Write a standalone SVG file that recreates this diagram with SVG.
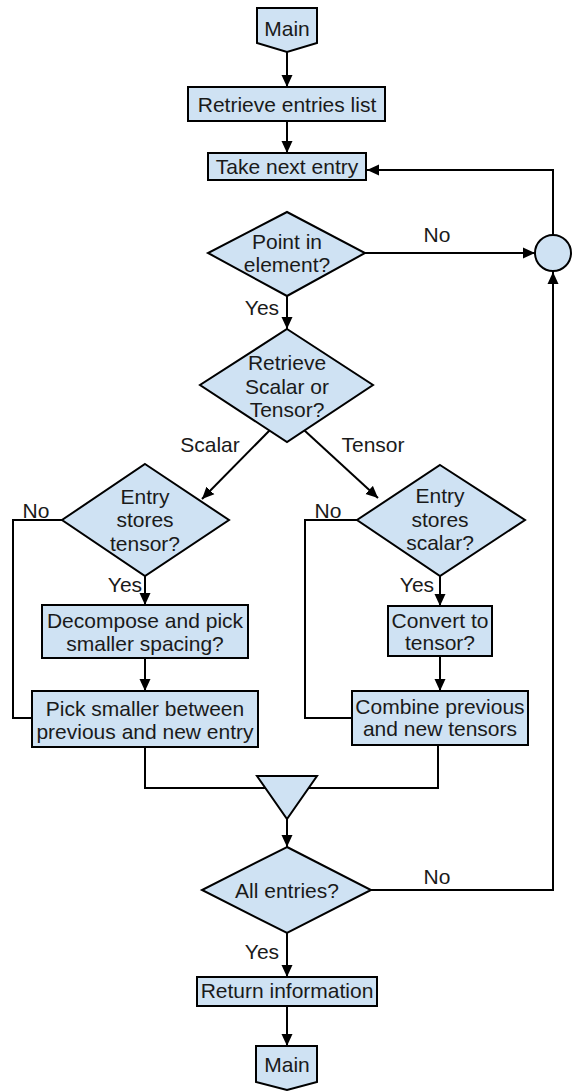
<svg xmlns="http://www.w3.org/2000/svg" width="573" height="1091" viewBox="0 0 573 1091">
  <style>
    .shape { fill: #cfe2f3; stroke: #000; stroke-width: 2; }
    .wire { fill: none; stroke: #000; stroke-width: 2; }
    .arrow { marker-end: url(#head); }
    text { font-family: "Liberation Sans", Arial, sans-serif; font-size: 21px; fill: #1a1a1a; text-anchor: middle; }
  </style>
  <defs>
    <marker id="head" viewBox="0 0 12 12" markerWidth="12" markerHeight="12" refX="12" refY="6" orient="auto" markerUnits="userSpaceOnUse">
      <path d="M0,0.5 L12,6 L0,11.5 z" fill="#000"/>
    </marker>
  </defs>
  <rect width="573" height="1091" fill="#fff"/>

  <!-- connectors -->
  <g id="connectors">
    <path class="wire arrow" d="M287,52 L287,87"/>
    <path class="wire arrow" d="M287,121 L287,153"/>
    <path class="wire arrow" d="M553,235 L553,170 L367,170"/>
    <path class="wire arrow" d="M287,296 L287,329"/>
    <path class="wire arrow" d="M365,253 L535,253"/>
    <path class="wire arrow" d="M269.5,430.5 L202,499"/>
    <path class="wire arrow" d="M304.5,430.5 L378,498"/>
    <path class="wire" d="M62,520 L13,520 L13,718 L32,718"/>
    <path class="wire arrow" d="M145,576 L145,605"/>
    <path class="wire arrow" d="M145,658 L145,691"/>
    <path class="wire" d="M357,520 L305,520 L305,718 L352,718"/>
    <path class="wire arrow" d="M440,576 L440,606"/>
    <path class="wire arrow" d="M440,656 L440,691"/>
    <path class="wire" d="M145,747 L145,788 L287,788"/>
    <path class="wire" d="M438,745 L438,788 L287,788"/>
    <path class="wire arrow" d="M287,819 L287,847"/>
    <path class="wire arrow" d="M371,890 L553,890 L553,272"/>
    <path class="wire arrow" d="M287,933 L287,977"/>
    <path class="wire arrow" d="M287,1006 L287,1046"/>
    <text x="437" y="242">No</text>
    <text x="262" y="315">Yes</text>
    <text x="210" y="452">Scalar</text>
    <text x="373" y="452">Tensor</text>
    <text x="36" y="518">No</text>
    <text x="125" y="592">Yes</text>
    <text x="328" y="518">No</text>
    <text x="417" y="592">Yes</text>
    <text x="437" y="884">No</text>
    <text x="262" y="959">Yes</text>
  </g>

  <!-- nodes -->
  <g id="main-start">
    <path class="shape" d="M257,8 L317,8 L317,43 L287,52 L257,43 z"/>
    <text x="287" y="36">Main</text>
  </g>
  <g id="retrieve-list">
    <rect class="shape" x="188" y="87" width="197" height="34"/>
    <text x="287" y="111.5">Retrieve entries list</text>
  </g>
  <g id="take-next">
    <rect class="shape" x="208" y="153" width="158" height="27"/>
    <text x="287" y="174">Take next entry</text>
  </g>
  <g id="point-in-element">
    <path class="shape" d="M287,212 L365,253 L287,296 L208,253 z"/>
    <text x="287" y="249">Point in</text>
    <text x="287" y="272">element?</text>
  </g>
  <g id="loop-joint">
    <circle class="shape" cx="553" cy="253" r="18"/>
  </g>
  <g id="scalar-or-tensor">
    <path class="shape" d="M287,329 L373,385 L287,442 L200,385 z"/>
    <text x="287" y="370">Retrieve</text>
    <text x="287" y="394">Scalar or</text>
    <text x="287" y="417">Tensor?</text>
  </g>
  <g id="stores-tensor">
    <path class="shape" d="M145,464 L229,520 L145,576 L62,520 z"/>
    <text x="145" y="503.5">Entry</text>
    <text x="145" y="527">stores</text>
    <text x="145" y="550.5">tensor?</text>
  </g>
  <g id="stores-scalar">
    <path class="shape" d="M440,465 L525,520 L440,576 L357,520 z"/>
    <text x="440" y="503">Entry</text>
    <text x="440" y="526.5">stores</text>
    <text x="440" y="550">scalar?</text>
  </g>
  <g id="decompose">
    <rect class="shape" x="42" y="605" width="206" height="53"/>
    <text x="145" y="627.5">Decompose and pick</text>
    <text x="145" y="651">smaller spacing?</text>
  </g>
  <g id="convert">
    <rect class="shape" x="388" y="606" width="104" height="50"/>
    <text x="440" y="627.5">Convert to</text>
    <text x="440" y="649.5">tensor?</text>
  </g>
  <g id="pick-smaller">
    <rect class="shape" x="32" y="691" width="226" height="56"/>
    <text x="145" y="716">Pick smaller between</text>
    <text x="145" y="739">previous and new entry</text>
  </g>
  <g id="combine">
    <rect class="shape" x="352" y="691" width="176" height="54"/>
    <text x="440" y="714">Combine previous</text>
    <text x="440" y="736">and new tensors</text>
  </g>
  <g id="merge">
    <path class="shape" d="M257,776 L317,776 L287,819 z"/>
  </g>
  <g id="all-entries">
    <path class="shape" d="M287,847 L371,890 L287,933 L202,890 z"/>
    <text x="287" y="897.5">All entries?</text>
  </g>
  <g id="return-info">
    <rect class="shape" x="197" y="977" width="180" height="29"/>
    <text x="287" y="997.5">Return information</text>
  </g>
  <g id="main-end">
    <path class="shape" d="M256,1046 L317,1046 L317,1082 L287,1090 L256,1082 z"/>
    <text x="287" y="1071.5">Main</text>
  </g>
</svg>
